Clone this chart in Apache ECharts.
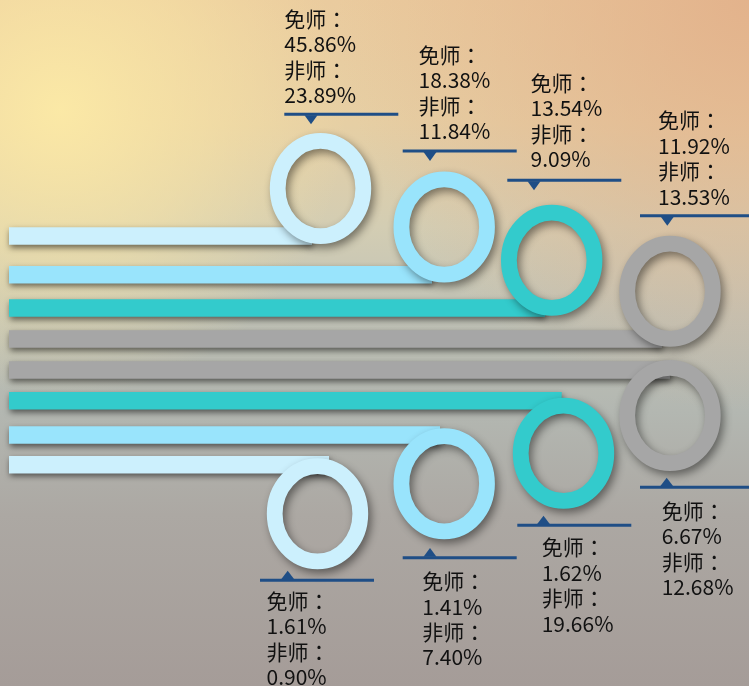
<!DOCTYPE html>
<html>
<head>
<meta charset="utf-8">
<style>
  html, body { margin: 0; padding: 0; }
  #main { width: 749px; height: 686px; }
</style>
<script src="https://cdn.jsdelivr.net/npm/echarts@6/dist/echarts.min.js"></script>
</head>
<body>
<div id="main"></div>
<script>
  // 数据：免师 / 非师 占比（上排从左到右，下排从右到左）
  const mianshi = [45.86, 18.38, 13.54, 11.92, 6.67, 1.62, 1.41, 1.61];
  const feishi = [23.89, 11.84, 9.09, 13.53, 12.68, 19.66, 7.40, 0.90];
  const labelNames = ['免师：', '非师：'];

  // 布局（坐标轴单位 = 像素）
  const ringX = [320.5, 444.2, 551.7, 670, 670, 563.5, 444.2, 317.5];
  const ringY = [188.5, 227, 260.3, 291.3, 415.5, 453.3, 483.7, 513.8];
  const barY = [236, 274.7, 308, 338.9, 370, 400.8, 435, 464.7];
  const barEnd = [312, 432, 545, 662, 670, 561.7, 440, 329];
  const lineX = [284.3, 402.7, 507.3, 640, 640, 517.3, 402.7, 260];
  const lineY = [114.3, 151, 180.3, 215.7, 487.3, 525.3, 557.7, 580.3];
  const pointerX = [311, 430, 534, 667.3, 666.7, 543.5, 430, 287.7];
  const textX = [284.3, 418.5, 530.5, 658, 661.7, 541.7, 422.3, 266.5];
  const textY = [19, 55, 83, 120.5, 510.8, 547.5, 581.3, 601];

  const colors = ['#ccf0fd', '#99e4fc', '#33cbcc', '#a6a6a6', '#a6a6a6', '#33cbcc', '#99e4fc', '#ccf0fd'];
  const lineColor = '#1f4e86';

  const chart = echarts.init(document.getElementById('main'));

  function renderBar(params, api) {
    const i = params.dataIndex;
    const p0 = api.coord([9, api.value(1)]);
    const p1 = api.coord([api.value(0), api.value(1)]);
    const h = api.size([0, 17.5])[1];
    return {
      type: 'rect',
      shape: { x: p0[0], y: p0[1] - h / 2, width: p1[0] - p0[0], height: h },
      style: {
        fill: colors[i],
        shadowBlur: 6,
        shadowColor: 'rgba(0,0,0,0.55)',
        shadowOffsetX: 1,
        shadowOffsetY: 3
      }
    };
  }

  function renderRing(params, api) {
    const i = params.dataIndex;
    const c = api.coord([api.value(0), api.value(1)]);
    const s = api.size([42.8, 47.6]);
    return {
      type: 'ellipse',
      shape: { cx: c[0], cy: c[1], rx: s[0], ry: s[1] },
      style: {
        fill: 'none',
        stroke: colors[i],
        lineWidth: 15.8,
        shadowBlur: 8,
        shadowColor: 'rgba(0,0,0,0.45)',
        shadowOffsetX: 3,
        shadowOffsetY: 4
      }
    };
  }

  function renderLabel(params, api) {
    const i = params.dataIndex;
    const top = i < 4;
    const a = api.coord([api.value(0), api.value(1)]);
    const pt = api.coord([pointerX[i], api.value(1)]);
    const t = api.coord([textX[i], textY[i]]);
    const lines = [labelNames[0], api.value(2).toFixed(2) + '%', labelNames[1], api.value(3).toFixed(2) + '%'];
    const children = [{
      type: 'rect',
      shape: { x: a[0], y: a[1] - 1.5, width: 114, height: 3 },
      style: { fill: lineColor }
    }, {
      type: 'polygon',
      shape: {
        points: top
          ? [[pt[0] - 6.5, a[1] + 1], [pt[0] + 6.5, a[1] + 1], [pt[0], a[1] + 10]]
          : [[pt[0] - 6.5, a[1] - 1], [pt[0] + 6.5, a[1] - 1], [pt[0], a[1] - 9.6]]
      },
      style: { fill: lineColor }
    }];
    lines.forEach(function (txt, k) {
      children.push({
        type: 'text',
        x: t[0],
        y: t[1] + k * 25.4,
        style: {
          text: txt,
          fill: '#111',
          fontSize: 21,
          fontFamily: 'Noto Sans CJK TC',
          align: 'left',
          verticalAlign: 'middle'
        }
      });
    });
    return { type: 'group', children: children };
  }

  let option = {
    animation: false,
    backgroundColor: {
      type: 'linear', x: 0, y: 0, x2: 0, y2: 1,
      colorStops: [
        { offset: 0, color: '#eacb9e' },
        { offset: 0.18, color: '#e6cfa4' },
        { offset: 0.33, color: '#d3cdb3' },
        { offset: 0.46, color: '#c0c2b6' },
        { offset: 0.6, color: '#b3b7b1' },
        { offset: 0.75, color: '#aca8a3' },
        { offset: 1, color: '#a59c98' }
      ]
    },
    graphic: [{
      type: 'rect',
      silent: true,
      shape: { x: 0, y: 0, width: 749, height: 686 },
      style: {
        fill: {
          type: 'radial', x: 0.08, y: 0.16, r: 0.42,
          colorStops: [
            { offset: 0, color: 'rgba(252,234,166,0.95)' },
            { offset: 0.5, color: 'rgba(250,230,165,0.55)' },
            { offset: 1, color: 'rgba(250,230,165,0)' }
          ]
        }
      }
    }, {
      type: 'rect',
      silent: true,
      shape: { x: 0, y: 0, width: 749, height: 686 },
      style: {
        fill: {
          type: 'radial', x: 1, y: 0, r: 0.6,
          colorStops: [
            { offset: 0, color: 'rgba(226,176,138,0.9)' },
            { offset: 1, color: 'rgba(226,176,138,0)' }
          ]
        }
      }
    }],
    grid: { left: 0, right: 0, top: 0, bottom: 0 },
    xAxis: { type: 'value', min: 0, max: 749, show: false },
    yAxis: { type: 'value', min: 0, max: 686, inverse: true, show: false },
    series: [{
      type: 'custom',
      name: 'bars',
      z: 2,
      silent: true,
      renderItem: renderBar,
      data: barEnd.map(function (x, i) { return [x, barY[i]]; })
    }, {
      type: 'custom',
      name: 'rings',
      z: 3,
      silent: true,
      renderItem: renderRing,
      data: ringX.map(function (x, i) { return [x, ringY[i]]; })
    }, {
      type: 'custom',
      name: 'labels',
      z: 4,
      silent: true,
      renderItem: renderLabel,
      data: mianshi.map(function (v, i) { return [lineX[i], lineY[i], v, feishi[i]]; })
    }]
  };
  chart.setOption(option);
</script>
</body>
</html>
